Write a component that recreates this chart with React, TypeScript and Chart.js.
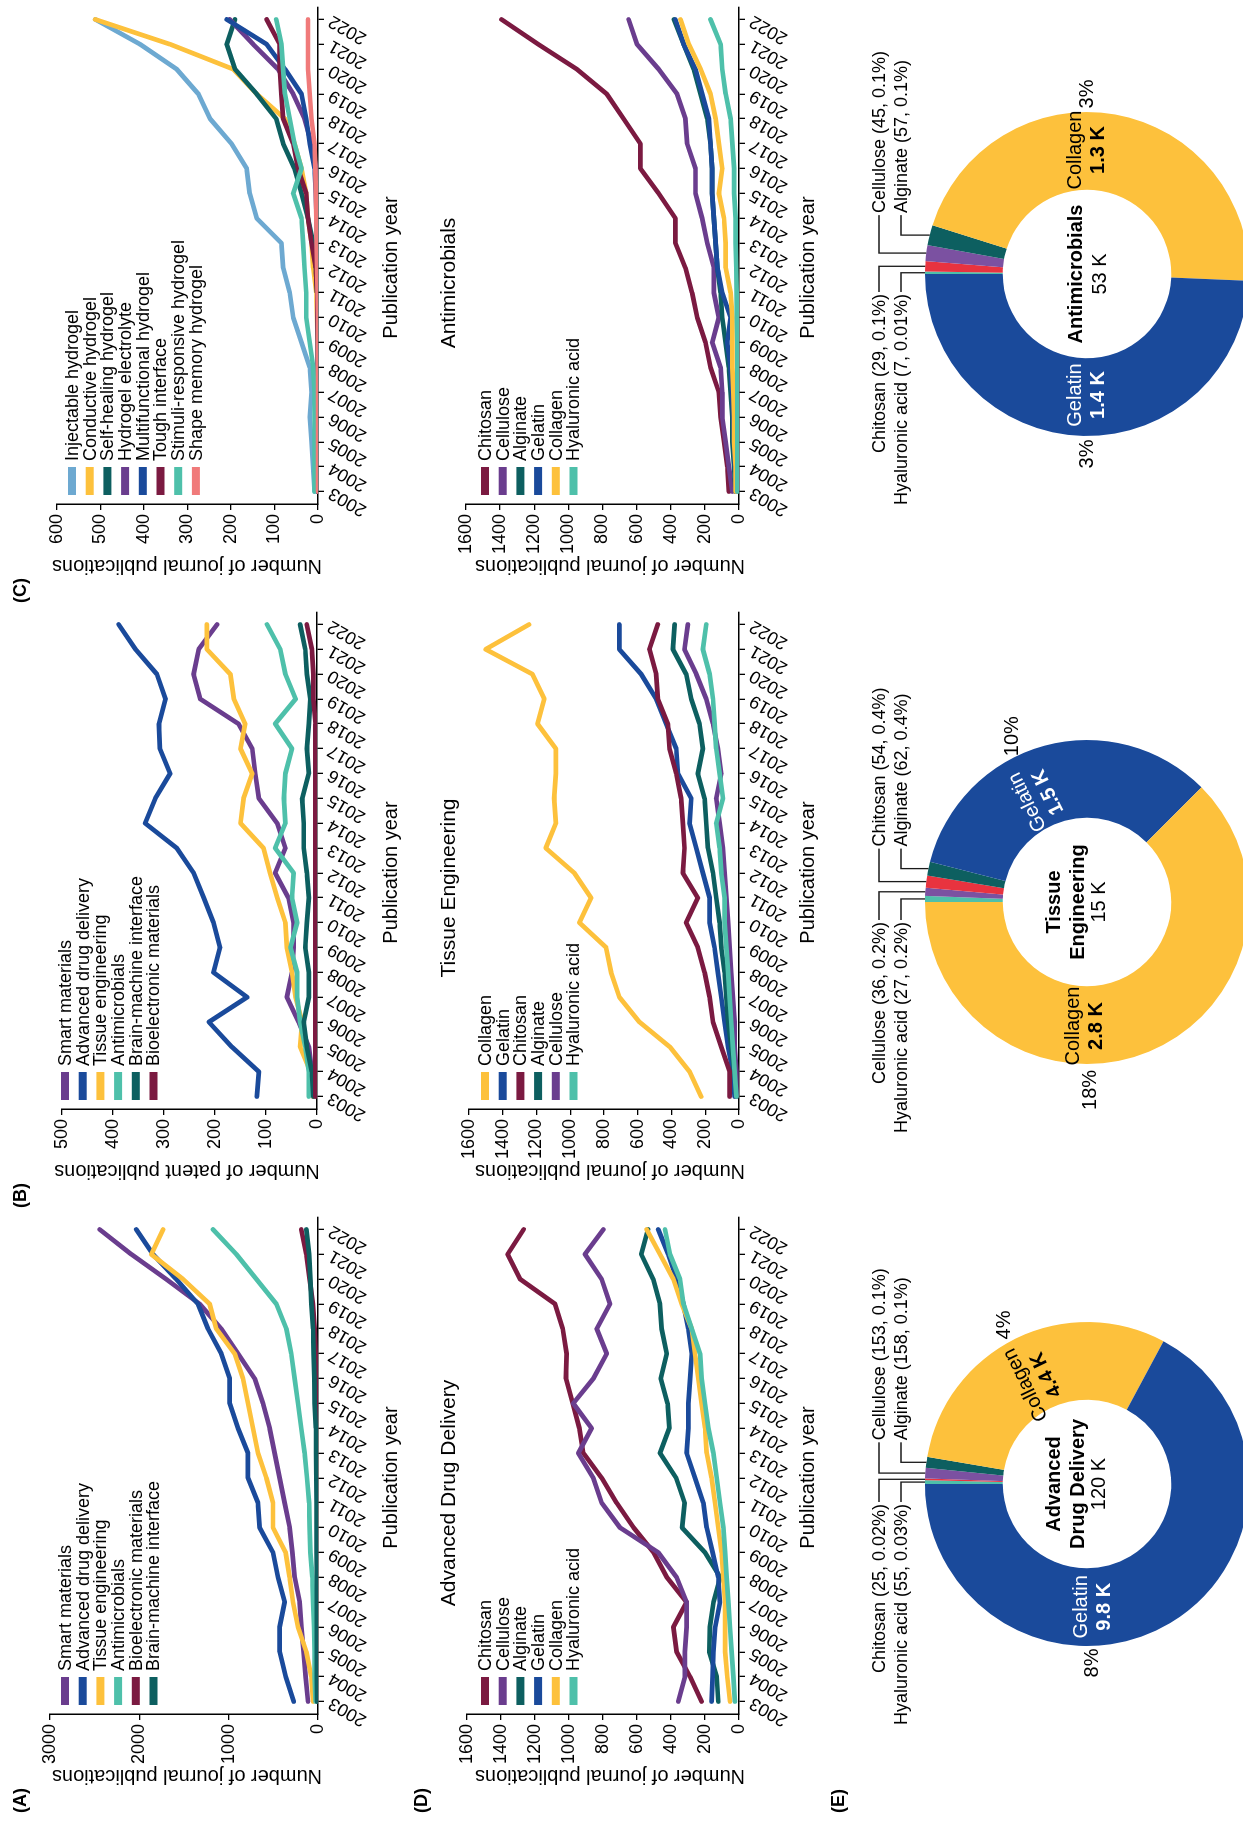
import React, { useEffect, useRef } from 'react';
import { Chart, registerables } from 'chart.js';

Chart.register(...registerables);

const FONT = '"Liberation Sans", Arial, Helvetica, sans-serif';
Chart.defaults.font.family = FONT;

const years = ['2003', '2004', '2005', '2006', '2007', '2008', '2009', '2010', '2011', '2012', '2013', '2014', '2015', '2016', '2017', '2018', '2019', '2020', '2021', '2022'];

// ---- colours
const PURPLE = '#6a3d8e';
const BLUE = '#1a4a9b';
const YELLOW = '#fdc13c';
const TEAL = '#4ec0aa';
const MAROON = '#7b1a41';
const DARK_TEAL = '#0d5f60';
const LIGHT_BLUE = '#6da9d1';
const SALMON = '#f07a7a';
const RED = '#e8333f';
const DONUT_PURPLE = '#7b51a1';

// ---- (A) journal publications per research field
const journalSmart = [112, 138, 160, 187, 205, 261, 287, 317, 373, 429, 485, 541, 616, 709, 895, 1082, 1325, 1700, 2090, 2444];
const journalDrug = [272, 362, 429, 429, 373, 448, 504, 653, 672, 784, 784, 895, 989, 989, 1082, 1231, 1343, 1586, 1847, 2034];
const journalTissue = [56, 75, 130, 224, 280, 317, 362, 504, 504, 578, 672, 728, 784, 840, 933, 1138, 1213, 1511, 1866, 1735];
const journalAntimicrobial = [26, 37, 37, 45, 56, 63, 86, 93, 100, 123, 149, 187, 224, 261, 299, 354, 466, 690, 914, 1175];
const journalBioelectronic = [3, 3, 3, 3, 3, 3, 3, 3, 3, 3, 5, 8, 10, 15, 26, 37, 56, 93, 130, 187];
const journalBrain = [10, 12, 12, 12, 12, 12, 15, 15, 15, 18, 20, 25, 37, 40, 48, 56, 75, 86, 100, 130];

// ---- (B) patent publications per research field
const patentSmart = [7, 10, 16, 36, 59, 49, 46, 46, 56, 82, 62, 78, 114, 121, 127, 154, 229, 242, 232, 196];
const patentDrug = [118, 114, 167, 212, 137, 203, 190, 203, 222, 242, 275, 337, 317, 288, 308, 310, 297, 314, 356, 389];
const patentTissue = [7, 13, 33, 29, 42, 49, 59, 62, 78, 92, 105, 150, 144, 127, 150, 141, 163, 170, 216, 216];
const patentAntimicrobial = [16, 16, 23, 33, 39, 39, 52, 39, 49, 46, 82, 62, 65, 62, 49, 82, 42, 62, 72, 98];
const patentBrain = [7, 10, 20, 26, 16, 16, 23, 20, 16, 20, 26, 26, 29, 16, 20, 16, 13, 20, 23, 33];
const patentBioelectronic = [3, 3, 3, 3, 3, 3, 3, 3, 3, 3, 3, 3, 3, 3, 3, 3, 7, 7, 10, 20];

// ---- (C) journal publications per hydrogel type
const gelInjectable = [8, 11, 15, 19, 15, 19, 38, 57, 65, 80, 84, 141, 157, 164, 199, 248, 275, 325, 409, 512];
const gelConductive = [0, 0, 0, 0, 0, 0, 1, 2, 4, 11, 15, 23, 27, 38, 54, 76, 141, 195, 340, 512];
const gelSelfHealing = [0, 0, 0, 0, 0, 0, 0, 1, 2, 5, 11, 23, 38, 54, 80, 96, 141, 191, 210, 191];
const gelElectrolyte = [0, 0, 0, 0, 0, 0, 0, 0, 0, 0, 1, 2, 3, 4, 15, 31, 57, 92, 149, 203];
const gelMultifunctional = [0, 0, 0, 0, 0, 0, 0, 0, 0, 1, 2, 3, 5, 8, 19, 27, 38, 76, 118, 210];
const gelTough = [0, 0, 0, 0, 0, 0, 0, 1, 2, 5, 15, 23, 27, 46, 57, 80, 84, 88, 88, 118];
const gelStimuli = [8, 8, 8, 8, 8, 11, 19, 27, 27, 31, 34, 38, 57, 38, 54, 65, 76, 80, 84, 96];
const gelShapeMemory = [0, 0, 0, 0, 0, 0, 0, 0, 1, 2, 3, 4, 5, 6, 8, 15, 19, 23, 23, 23];

// ---- (D) materials in advanced drug delivery
const drugChitosan = [220, 288, 367, 386, 308, 424, 502, 620, 720, 808, 916, 939, 978, 1018, 1014, 1037, 1082, 1288, 1361, 1267];
const drugCellulose = [357, 318, 318, 308, 308, 367, 475, 700, 808, 857, 945, 867, 975, 857, 778, 837, 759, 808, 906, 798];
const drugAlginate = [122, 131, 175, 171, 150, 110, 200, 335, 320, 370, 465, 410, 420, 460, 425, 455, 465, 505, 575, 535];
const drugGelatin = [161, 155, 151, 140, 112, 122, 155, 190, 210, 259, 308, 298, 298, 288, 278, 298, 327, 367, 416, 475];
const drugCollagen = [53, 69, 82, 82, 82, 92, 102, 122, 141, 161, 190, 200, 220, 239, 259, 278, 337, 386, 465, 543];
const drugHyaluronic = [24, 33, 43, 53, 63, 73, 82, 92, 112, 131, 151, 180, 200, 220, 229, 278, 327, 347, 406, 435];

// ---- materials in tissue engineering
const tissueCollagen = [224, 293, 410, 590, 709, 758, 788, 946, 877, 976, 1145, 1085, 1095, 1085, 1085, 1194, 1154, 1224, 1501, 1244];
const tissueGelatin = [26, 36, 65, 85, 105, 125, 145, 174, 174, 214, 253, 293, 283, 362, 372, 432, 491, 580, 709, 709];
const tissueChitosan = [55, 55, 105, 154, 174, 204, 244, 313, 244, 333, 323, 333, 343, 372, 412, 422, 481, 491, 531, 481];
const tissueAlginate = [16, 26, 46, 65, 75, 85, 105, 115, 135, 154, 184, 194, 204, 244, 214, 234, 283, 313, 392, 382];
const tissueCellulose = [16, 16, 26, 26, 36, 46, 55, 65, 75, 85, 95, 115, 135, 105, 125, 154, 194, 253, 323, 303];
const tissueHyaluronic = [16, 26, 36, 46, 55, 65, 75, 85, 85, 105, 115, 135, 95, 115, 135, 145, 154, 174, 214, 194];

// ---- materials in antimicrobials
const microbeChitosan = [59, 69, 88, 108, 118, 167, 196, 245, 275, 314, 373, 373, 471, 578, 578, 676, 775, 951, 1176, 1392];
const microbeCellulose = [39, 59, 78, 98, 98, 108, 157, 118, 147, 147, 186, 216, 255, 255, 304, 314, 363, 471, 598, 647];
const microbeAlginate = [20, 29, 39, 39, 49, 59, 78, 98, 108, 127, 137, 147, 157, 157, 167, 186, 225, 265, 324, 382];
const microbeGelatin = [20, 25, 30, 35, 40, 50, 69, 49, 98, 127, 137, 147, 157, 157, 167, 176, 216, 255, 324, 373];
const microbeCollagen = [20, 20, 29, 29, 33, 39, 39, 39, 49, 78, 78, 88, 118, 98, 118, 137, 167, 225, 294, 343];
const microbeHyaluronic = [10, 10, 10, 10, 10, 10, 10, 12, 14, 16, 20, 20, 29, 29, 39, 49, 78, 98, 108, 167];

// ---- (E) material totals per field (slices listed clockwise from 12 o'clock)
const drugDonutNames = ['Hyaluronic acid', 'Chitosan', 'Cellulose', 'Alginate', 'Collagen', 'Gelatin'];
const drugDonutValues = [55, 25, 153, 158, 4400, 9800];
const drugDonutShares = ['0.03%', '0.02%', '0.1%', '0.1%', '4%', '8%'];
const drugDonutTotal = 120000;

const tissueDonutNames = ['Hyaluronic acid', 'Cellulose', 'Chitosan', 'Alginate', 'Gelatin', 'Collagen'];
const tissueDonutValues = [27, 36, 54, 62, 1500, 2800];
const tissueDonutShares = ['0.2%', '0.2%', '0.4%', '0.4%', '10%', '18%'];
const tissueDonutTotal = 15000;

const microbeDonutNames = ['Hyaluronic acid', 'Chitosan', 'Cellulose', 'Alginate', 'Collagen', 'Gelatin'];
const microbeDonutValues = [7, 29, 45, 57, 1300, 1400];
const microbeDonutShares = ['0.01%', '0.1%', '0.1%', '0.1%', '3%', '3%'];
const microbeDonutTotal = 53000;

const materialColor: Record<string, string> = {
  'Hyaluronic acid': TEAL,
  Chitosan: RED,
  Cellulose: DONUT_PURPLE,
  Alginate: DARK_TEAL,
  Collagen: YELLOW,
  Gelatin: BLUE,
};

// ---- sheet geometry (landscape sheet, turned a quarter to fit the portrait page)
const SHEET_W = 1825;
const SHEET_H = 1243;
const COL_W = 605;
const ROW_H = 420;
const CANVAS_W = 620;
const PLOT_LEFT = 111;
const PLOT_RIGHT = 608;
const LEGEND_STEP = 17.7;

type Series = { name: string; color: string; values: number[] };
type LinePanel = {
  id: string;
  col: number;
  row: number;
  top: number;
  bottom: number;
  max: number;
  step: number;
  yTitle: string;
  yTitleY: number;
  xTitleY: number;
  title?: string;
  legendY: number;
  series: Series[];
};

const linePanels: LinePanel[] = [
  {
    id: 'fields-journal', col: 0, row: 0, top: 50, bottom: 318, max: 3000, step: 1000,
    yTitle: 'Number of journal publications', yTitleY: 187, xTitleY: 391, legendY: 65,
    series: [
      { name: 'Smart materials', color: PURPLE, values: journalSmart },
      { name: 'Advanced drug delivery', color: BLUE, values: journalDrug },
      { name: 'Tissue engineering', color: YELLOW, values: journalTissue },
      { name: 'Antimicrobials', color: TEAL, values: journalAntimicrobial },
      { name: 'Bioelectronic materials', color: MAROON, values: journalBioelectronic },
      { name: 'Brain-machine interface', color: DARK_TEAL, values: journalBrain },
    ],
  },
  {
    id: 'fields-patent', col: 1, row: 0, top: 62, bottom: 317, max: 500, step: 100,
    yTitle: 'Number of patent publications', yTitleY: 187, xTitleY: 391, legendY: 65,
    series: [
      { name: 'Smart materials', color: PURPLE, values: patentSmart },
      { name: 'Advanced drug delivery', color: BLUE, values: patentDrug },
      { name: 'Tissue engineering', color: YELLOW, values: patentTissue },
      { name: 'Antimicrobials', color: TEAL, values: patentAntimicrobial },
      { name: 'Brain-machine interface', color: DARK_TEAL, values: patentBrain },
      { name: 'Bioelectronic materials', color: MAROON, values: patentBioelectronic },
    ],
  },
  {
    id: 'hydrogels', col: 2, row: 0, top: 57, bottom: 318, max: 600, step: 100,
    yTitle: 'Number of journal publications', yTitleY: 187, xTitleY: 391, legendY: 72,
    series: [
      { name: 'Injectable hydrogel', color: LIGHT_BLUE, values: gelInjectable },
      { name: 'Conductive hydrogel', color: YELLOW, values: gelConductive },
      { name: 'Self-healing hydrogel', color: DARK_TEAL, values: gelSelfHealing },
      { name: 'Hydrogel electrolyte', color: PURPLE, values: gelElectrolyte },
      { name: 'Multifunctional hydrogel', color: BLUE, values: gelMultifunctional },
      { name: 'Tough interface', color: MAROON, values: gelTough },
      { name: 'Stimuli-responsive hydrogel', color: TEAL, values: gelStimuli },
      { name: 'Shape memory hydrogel', color: SALMON, values: gelShapeMemory },
    ],
  },
  {
    id: 'drug-materials', col: 0, row: 1, top: 47, bottom: 319, max: 1600, step: 200,
    yTitle: 'Number of journal publications', yTitleY: 190, xTitleY: 388, legendY: 65,
    title: 'Advanced Drug Delivery',
    series: [
      { name: 'Chitosan', color: MAROON, values: drugChitosan },
      { name: 'Cellulose', color: PURPLE, values: drugCellulose },
      { name: 'Alginate', color: DARK_TEAL, values: drugAlginate },
      { name: 'Gelatin', color: BLUE, values: drugGelatin },
      { name: 'Collagen', color: YELLOW, values: drugCollagen },
      { name: 'Hyaluronic acid', color: TEAL, values: drugHyaluronic },
    ],
  },
  {
    id: 'tissue-materials', col: 1, row: 1, top: 49, bottom: 319, max: 1600, step: 200,
    yTitle: 'Number of journal publications', yTitleY: 190, xTitleY: 388, legendY: 65,
    title: 'Tissue Engineering',
    series: [
      { name: 'Collagen', color: YELLOW, values: tissueCollagen },
      { name: 'Gelatin', color: BLUE, values: tissueGelatin },
      { name: 'Chitosan', color: MAROON, values: tissueChitosan },
      { name: 'Alginate', color: DARK_TEAL, values: tissueAlginate },
      { name: 'Cellulose', color: PURPLE, values: tissueCellulose },
      { name: 'Hyaluronic acid', color: TEAL, values: tissueHyaluronic },
    ],
  },
  {
    id: 'microbe-materials', col: 2, row: 1, top: 46, bottom: 319, max: 1600, step: 200,
    yTitle: 'Number of journal publications', yTitleY: 190, xTitleY: 388, legendY: 65,
    title: 'Antimicrobials',
    series: [
      { name: 'Chitosan', color: MAROON, values: microbeChitosan },
      { name: 'Cellulose', color: PURPLE, values: microbeCellulose },
      { name: 'Alginate', color: DARK_TEAL, values: microbeAlginate },
      { name: 'Gelatin', color: BLUE, values: microbeGelatin },
      { name: 'Collagen', color: YELLOW, values: microbeCollagen },
      { name: 'Hyaluronic acid', color: TEAL, values: microbeHyaluronic },
    ],
  },
];

function lineOverlay(p: LinePanel) {
  return {
    id: 'overlay-' + p.id,
    afterDraw(chart: any) {
      const ctx: CanvasRenderingContext2D = chart.ctx;
      const area = chart.chartArea;
      ctx.save();
      // legend
      ctx.font = `18px ${FONT}`;
      ctx.textBaseline = 'middle';
      ctx.textAlign = 'left';
      p.series.forEach((s, i) => {
        const y = p.legendY + i * LEGEND_STEP;
        ctx.fillStyle = s.color;
        ctx.fillRect(120, y - 4, 28, 8);
        ctx.fillStyle = '#000';
        ctx.fillText(s.name, 154, y + 1);
      });
      // panel title
      if (p.title) {
        ctx.font = `21px ${FONT}`;
        ctx.textAlign = 'center';
        ctx.fillText(p.title, 332, 29);
      }
      // axis titles
      ctx.font = `20px ${FONT}`;
      ctx.textAlign = 'center';
      ctx.fillText('Publication year', (area.left + area.right) / 2 - 12, p.xTitleY);
      ctx.translate(49, p.yTitleY);
      ctx.rotate(-Math.PI / 2);
      ctx.fillText(p.yTitle, 0, 0);
      ctx.restore();
    },
  };
}

function buildLineConfig(p: LinePanel): any {
  const tickFont = { family: FONT, size: 18 };
  const axisGrid = { display: true, drawOnChartArea: false, drawTicks: true, tickLength: 6, color: '#000', lineWidth: 1.3 };
  const axisBorder = { display: true, color: '#000', width: 1.5 };
  const n = p.series.length;
  return {
    type: 'line',
    data: {
      labels: years,
      datasets: p.series.map((s, i) => ({
        label: s.name,
        data: s.values,
        borderColor: s.color,
        backgroundColor: s.color,
        borderWidth: 4.7,
        pointRadius: 0,
        pointHoverRadius: 0,
        tension: 0,
        fill: false,
        borderJoinStyle: 'round',
        borderCapStyle: 'round',
        order: n - i,
      })),
    },
    options: {
      animation: false,
      responsive: false,
      maintainAspectRatio: false,
      events: [],
      layout: { padding: { left: 0, right: CANVAS_W - PLOT_RIGHT, top: p.top, bottom: 0 } },
      plugins: { legend: { display: false }, tooltip: { enabled: false }, title: { display: false } },
      scales: {
        x: {
          type: 'category',
          offset: true,
          grid: axisGrid,
          border: axisBorder,
          ticks: { color: '#000', font: tickFont, autoSkip: false, maxRotation: 60, minRotation: 60, padding: 1 },
          afterFit: (s: any) => { s.height = ROW_H - p.bottom; },
        },
        y: {
          min: 0,
          max: p.max,
          grid: axisGrid,
          border: axisBorder,
          ticks: { color: '#000', font: tickFont, stepSize: p.step, padding: 4, callback: (v: any) => String(v) },
          afterFit: (s: any) => { s.width = PLOT_LEFT; },
        },
      },
    },
    plugins: [lineOverlay(p)],
  };
}

function LineChartPanel({ p }: { p: LinePanel }) {
  const ref = useRef<HTMLCanvasElement>(null);
  useEffect(() => {
    const chart = new Chart(ref.current as HTMLCanvasElement, buildLineConfig(p));
    return () => chart.destroy();
  }, [p]);
  return (
    <canvas
      ref={ref}
      width={CANVAS_W}
      height={ROW_H}
      style={{ position: 'absolute', left: p.col * COL_W, top: p.row * ROW_H, width: CANVAS_W, height: ROW_H }}
    />
  );
}

// ---- doughnuts
const DONUT_TOP = 840;
const DONUT_W = 600;
const DONUT_H = 420;
const DONUT_CY = 247;
const DONUT_R = 162;

type BigLabel = { index: number; angle: number; r: number; rot: number; color: string; shareAngle: number; shareR: number };
type Donut = {
  id: string;
  cx: number;
  title: string[];
  total: number;
  names: string[];
  values: number[];
  shares: string[];
  big: BigLabel[];
  centreOffsets: number[];
};

const donuts: Donut[] = [
  {
    id: 'drug', cx: 341, title: ['Advanced', 'Drug Delivery'], total: drugDonutTotal,
    names: drugDonutNames, values: drugDonutValues, shares: drugDonutShares,
    centreOffsets: [-33, -9, 12],
    big: [
      { index: 4, angle: 64, r: 116, rot: -26, color: '#000', shareAngle: 62.7, shareR: 179 },
      { index: 5, angle: 267, r: 123, rot: 0, color: '#fff', shareAngle: 268.4, shareR: 179 },
    ],
  },
  {
    id: 'tissue', cx: 923, title: ['Tissue', 'Engineering'], total: tissueDonutTotal,
    names: tissueDonutNames, values: tissueDonutValues, shares: tissueDonutShares,
    centreOffsets: [-33, -9, 12],
    big: [
      { index: 4, angle: 65, r: 116, rot: -26, color: '#fff', shareAngle: 65.7, shareR: 182 },
      { index: 5, angle: 271, r: 124, rot: 0, color: '#000', shareAngle: 269, shareR: 188 },
    ],
  },
  {
    id: 'microbe', cx: 1551, title: ['Antimicrobials'], total: microbeDonutTotal,
    names: microbeDonutNames, values: microbeDonutValues, shares: microbeDonutShares,
    centreOffsets: [-11, 13],
    big: [
      { index: 4, angle: 90, r: 124, rot: 0, color: '#000', shareAngle: 90, shareR: 180 },
      { index: 5, angle: 270, r: 121, rot: 0, color: '#fff', shareAngle: 270, shareR: 180 },
    ],
  },
];

function fmtK(v: number) {
  const k = v / 1000;
  return (Number.isInteger(k) ? String(k) : k.toFixed(1)) + ' K';
}

function donutOverlay(d: Donut) {
  return {
    id: 'donut-' + d.id,
    afterDraw(chart: any) {
      const ctx: CanvasRenderingContext2D = chart.ctx;
      const arcs: any[] = chart.getDatasetMeta(0).data;
      const cx = arcs[0].x;
      const cy = arcs[0].y;
      const R = arcs[0].outerRadius;
      ctx.save();
      ctx.textBaseline = 'middle';
      ctx.textAlign = 'center';

      // centre
      ctx.fillStyle = '#000';
      d.title.forEach((t, i) => {
        ctx.font = `bold 20px ${FONT}`;
        ctx.fillText(t, cx, cy + d.centreOffsets[i]);
      });
      ctx.font = `20px ${FONT}`;
      ctx.fillText(fmtK(d.total), cx, cy + d.centreOffsets[d.title.length]);

      // labels on the two large slices, with their shares outside the ring
      d.big.forEach((b) => {
        const a = (b.angle * Math.PI) / 180;
        ctx.save();
        ctx.translate(cx + b.r * Math.sin(a), cy - b.r * Math.cos(a));
        ctx.rotate((b.rot * Math.PI) / 180);
        ctx.fillStyle = b.color;
        ctx.font = `20px ${FONT}`;
        ctx.fillText(d.names[b.index], 0, -11.5);
        ctx.font = `bold 20px ${FONT}`;
        ctx.fillText(fmtK(d.values[b.index]), 0, 11.5);
        ctx.restore();
        const s = (b.shareAngle * Math.PI) / 180;
        ctx.fillStyle = '#000';
        ctx.font = `20px ${FONT}`;
        ctx.fillText(d.shares[b.index], cx + b.shareR * Math.sin(s), cy - b.shareR * Math.cos(s));
      });

      // call-outs for the four thin slices
      const edge = (i: number) => {
        const m = (arcs[i].startAngle + arcs[i].endAngle) / 2;
        return { x: cx + R * Math.cos(m), y: cy + R * Math.sin(m) };
      };
      const rowY = [cy - 208, cy - 186];
      const leftEnd = cx - 20;
      const rightStart = Math.max(edge(2).x, edge(3).x) + 22;
      const slots = [
        { index: 1, left: true, row: 0 },
        { index: 0, left: true, row: 1 },
        { index: 2, left: false, row: 0 },
        { index: 3, left: false, row: 1 },
      ];
      ctx.font = `18px ${FONT}`;
      ctx.strokeStyle = '#1a1a1a';
      ctx.lineWidth = 1.3;
      slots.forEach((sl) => {
        const y = rowY[sl.row];
        const p = edge(sl.index);
        const text = `${d.names[sl.index]} (${d.values[sl.index]}, ${d.shares[sl.index]})`;
        ctx.fillStyle = '#000';
        ctx.textAlign = sl.left ? 'right' : 'left';
        const tx = sl.left ? leftEnd : rightStart;
        ctx.fillText(text, tx, y + 1);
        ctx.beginPath();
        ctx.moveTo(sl.left ? tx + 2 : tx - 2, y);
        ctx.lineTo(p.x, y);
        ctx.lineTo(p.x, p.y);
        ctx.stroke();
      });
      ctx.restore();
    },
  };
}

function buildDonutConfig(d: Donut): any {
  return {
    type: 'doughnut',
    data: {
      labels: d.names,
      datasets: [
        {
          data: d.values,
          backgroundColor: d.names.map((n) => materialColor[n]),
          borderWidth: 0,
          hoverOffset: 0,
          offset: 0,
          spacing: 0,
        },
      ],
    },
    options: {
      animation: false,
      responsive: false,
      maintainAspectRatio: false,
      events: [],
      rotation: 0,
      circumference: 360,
      cutout: '52%',
      layout: {
        padding: {
          left: DONUT_W / 2 - DONUT_R,
          right: DONUT_W / 2 - DONUT_R,
          top: DONUT_CY - DONUT_R,
          bottom: DONUT_H - DONUT_CY - DONUT_R,
        },
      },
      plugins: { legend: { display: false }, tooltip: { enabled: false } },
    },
    plugins: [donutOverlay(d)],
  };
}

function DonutPanel({ d }: { d: Donut }) {
  const ref = useRef<HTMLCanvasElement>(null);
  useEffect(() => {
    const chart = new Chart(ref.current as HTMLCanvasElement, buildDonutConfig(d));
    return () => chart.destroy();
  }, [d]);
  return (
    <canvas
      ref={ref}
      width={DONUT_W}
      height={DONUT_H}
      style={{ position: 'absolute', left: d.cx - DONUT_W / 2, top: DONUT_TOP, width: DONUT_W, height: DONUT_H }}
    />
  );
}

const panelTags = [
  { text: '(A)', x: 12, y: 20 },
  { text: '(B)', x: 12 + COL_W, y: 20 },
  { text: '(C)', x: 12 + 2 * COL_W, y: 20 },
  { text: '(D)', x: 12, y: 421 },
  { text: '(E)', x: 12, y: 838 },
];

export default function App() {
  return (
    <div style={{ position: 'absolute', left: 0, top: 0, width: SHEET_H, height: SHEET_W, overflow: 'hidden', background: '#fff' }}>
      <div
        style={{
          position: 'absolute',
          left: 0,
          top: SHEET_W,
          width: SHEET_W,
          height: SHEET_H,
          transform: 'rotate(-90deg)',
          transformOrigin: '0 0',
          background: '#fff',
          fontFamily: FONT,
        }}
      >
        {linePanels.map((p) => (
          <LineChartPanel key={p.id} p={p} />
        ))}
        {donuts.map((d) => (
          <DonutPanel key={d.id} d={d} />
        ))}
        {panelTags.map((t) => (
          <div
            key={t.text}
            style={{ position: 'absolute', left: t.x, top: t.y - 10, height: 20, lineHeight: '20px', fontSize: 18, fontWeight: 'bold', color: '#000' }}
          >
            {t.text}
          </div>
        ))}
      </div>
    </div>
  );
}
